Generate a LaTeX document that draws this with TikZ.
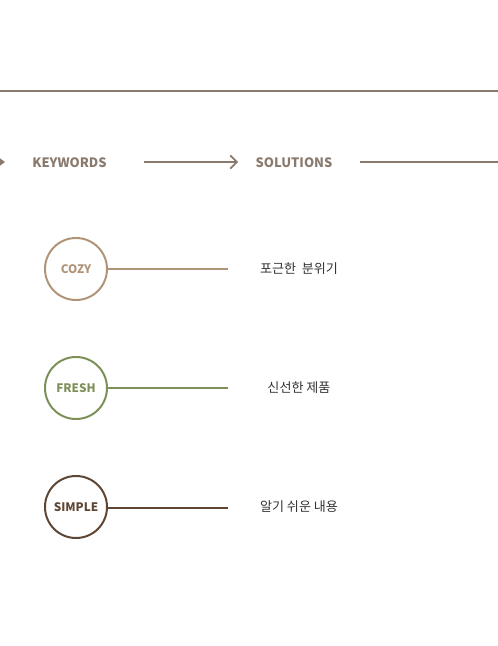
\documentclass[tikz,border=0pt]{standalone}
\usepackage{fontspec}
\setmainfont{Noto Sans CJK KR}
\usetikzlibrary{arrows.meta,positioning}
\definecolor{lineBrown}{HTML}{8A7A6E}
\definecolor{cozyC}{HTML}{B09478}
\definecolor{freshC}{HTML}{7E9059}
\definecolor{simpleC}{HTML}{5E4634}
\definecolor{bodyText}{HTML}{333333}

\begin{document}
\begin{tikzpicture}[
            x=0.75pt,   % 1 unit = 1 px
            y=-0.75pt,
            head/.style={font=\bfseries\fontsize{9.7}{12}\selectfont, text=lineBrown},
            key/.style={circle, draw=#1, line width=1.5pt, minimum size=46.5pt, inner sep=0pt,
                        text=#1, font=\bfseries\fontsize{8.8}{11}\selectfont},
            link/.style={draw=#1, line width=1.5pt},
            sol/.style={text=bodyText, font=\fontsize{9.8}{11}\selectfont}
        ]
            % 画面の枠
            \useasboundingbox (0,0) rectangle (498,646);
            \clip (0,0) rectangle (498,646);

            % 上の区切り線
            \draw[lineBrown, line width=0.9pt] (0,91) -- (498,91);

            % 見出し
            \node[head] (kw) at (69.5,163) {KEYWORDS};
            \node[head] (solhead) at (294,163) {SOLUTIONS};
            \coordinate (leftIn) at (-40,162);
            \coordinate (leftTip) at (5,162);
            \coordinate (arrA) at (144,162);
            \coordinate (arrB) at (238,162);
            \coordinate (rightA) at (360,162);
            \coordinate (rightOut) at (520,162);
            \draw[lineBrown, line width=1.2pt, -{Triangle[length=5pt,width=7pt]}] (leftIn) -- (leftTip);
            \draw[lineBrown, line width=1.2pt, -{Straight Barb[length=5pt,width=10pt]}] (arrA) -- (arrB);
            \draw[lineBrown, line width=1.2pt] (rightA) -- (rightOut);

            % キーワードの円
            \node[key=cozyC] (cozy) at (76,269) {COZY};
            \node[key=freshC] (fresh) at (76,388) {FRESH};
            \node[key=simpleC] (simple) at (76,507) {SIMPLE};

            % 線の終点
            \coordinate (cozyEnd) at (228,269);
            \coordinate (freshEnd) at (228,388);
            \coordinate (simpleEnd) at (228,508);
            \draw[link=cozyC] (cozy) -- (cozyEnd);
            \draw[link=freshC] (fresh) -- (freshEnd);
            \draw[link=simpleC] (simple.east |- simpleEnd) -- (simpleEnd);

            % 解決策
            \node[sol] (cozyText) at (299,269) {포근한\ \ 분위기};
            \node[sol] (freshText) at (299,388) {신선한 제품};
            \node[sol] (simpleText) at (299,507) {알기 쉬운 내용};
        \end{tikzpicture}
\end{document}
